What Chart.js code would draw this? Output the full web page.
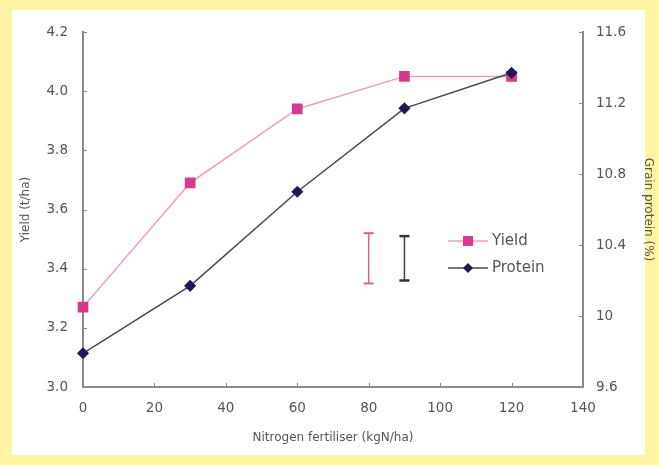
<!DOCTYPE html>
<html>
<head>
<meta charset="utf-8">
<script src="https://cdn.jsdelivr.net/npm/chart.js@4/dist/chart.umd.min.js"></script>
<style>
  html, body { margin: 0; padding: 0; background: #fff4a3; }
  #wrap { width: 659px; height: 465px; position: relative; }
</style>
</head>
<body>
<div id="wrap"><canvas id="nChart" width="659" height="465"></canvas></div>
<script>
// data
const nitrogen = [0, 30, 60, 90, 120];
const yieldVals = [3.27, 3.69, 3.94, 4.05, 4.05];
const proteinVals = [9.79, 10.17, 10.70, 11.17, 11.37];
// LSD bars
const yieldBarX = 80, yieldBar = [3.35, 3.52];
const proteinBarX = 90, proteinBar = [10.20, 10.45];
const legendNames = ['Yield', 'Protein'];

const pink = '#d9388f', pinkLine = '#ec9cc1';
const navy = '#1c1a55', navyLine = '#4a4a4a';
const axisGrey = '#8a8a8a', textGrey = '#555';

const pts = (xs, ys) => xs.map((x, i) => ({ x: x, y: ys[i] }));

// background + inside tick marks + legend
const decor = {
  id: 'decor',
  beforeDraw(chart) {
    const c = chart.ctx;
    c.save();
    c.fillStyle = '#fff4a3';
    c.fillRect(0, 0, chart.width, chart.height);
    c.fillStyle = '#ffffff';
    c.fillRect(12, 10, 633, 445);
    c.restore();
  },
  afterDraw(chart) {
    const c = chart.ctx, a = chart.chartArea;
    const sx = chart.scales.x, sy = chart.scales.y, sy2 = chart.scales.y2;
    c.save();
    c.strokeStyle = axisGrey;
    c.lineWidth = 1;
    c.beginPath();
    sy.ticks.forEach(t => { const p = Math.round(sy.getPixelForValue(t.value)) + 0.5; c.moveTo(a.left, p); c.lineTo(a.left + 4, p); });
    sy2.ticks.forEach(t => { const p = Math.round(sy2.getPixelForValue(t.value)) + 0.5; c.moveTo(a.right, p); c.lineTo(a.right - 4, p); });
    sx.ticks.forEach(t => { const p = Math.round(sx.getPixelForValue(t.value)) + 0.5; c.moveTo(p, a.bottom); c.lineTo(p, a.bottom - 4); });
    c.stroke();

    // legend
    const lx = 448, ly = [241, 268];
    const styles = [[pinkLine, pink, 'rect'], [navyLine, navy, 'rectRot']];
    c.font = '15px "DejaVu Sans", sans-serif';
    c.textBaseline = 'middle';
    legendNames.forEach((name, i) => {
      c.strokeStyle = styles[i][0];
      c.lineWidth = 1.5;
      c.beginPath(); c.moveTo(lx, ly[i]); c.lineTo(lx + 40, ly[i]); c.stroke();
      c.fillStyle = styles[i][1];
      if (styles[i][2] === 'rect') c.fillRect(lx + 15, ly[i] - 5, 10, 10);
      else { c.beginPath(); c.moveTo(lx + 20, ly[i] - 5); c.lineTo(lx + 25, ly[i]); c.lineTo(lx + 20, ly[i] + 5); c.lineTo(lx + 15, ly[i]); c.closePath(); c.fill(); }
      c.fillStyle = textGrey;
      c.fillText(name, lx + 44, ly[i]);
    });
    c.restore();
  }
};

const tickFont = { family: '"DejaVu Sans", sans-serif', size: 13.5 };
const titleFont = { family: '"DejaVu Sans", sans-serif', size: 12 };

new Chart(document.getElementById('nChart'), {
  type: 'line',
  data: {
    datasets: [
      {
        label: legendNames[0], data: pts(nitrogen, yieldVals), yAxisID: 'y', order: 2, clip: false,
        borderColor: pinkLine, borderWidth: 1.5, backgroundColor: pink,
        pointStyle: 'rect', pointRadius: 6.5, pointBorderColor: pink, pointBackgroundColor: pink
      },
      {
        label: legendNames[1], data: pts(nitrogen, proteinVals), yAxisID: 'y2', order: 1, clip: false,
        borderColor: navyLine, borderWidth: 1.5, backgroundColor: navy,
        pointStyle: 'rectRot', pointRadius: 5, pointBorderColor: navy, pointBackgroundColor: navy
      },
      {
        label: 'yield LSD', data: pts([yieldBarX, yieldBarX], yieldBar), yAxisID: 'y', order: 3,
        borderColor: '#e0609a', borderWidth: 1.5,
        pointStyle: 'line', pointRadius: 5, pointBorderWidth: 2, pointBorderColor: '#e0609a'
      },
      {
        label: 'protein LSD', data: pts([proteinBarX, proteinBarX], proteinBar), yAxisID: 'y2', order: 3,
        borderColor: '#444', borderWidth: 1.5,
        pointStyle: 'line', pointRadius: 5, pointBorderWidth: 2.5, pointBorderColor: '#333'
      }
    ]
  },
  options: {
    responsive: false,
    animation: false,
    layout: { padding: { top: 32, left: 0, right: 0, bottom: 0 } },
    plugins: { legend: { display: false }, tooltip: { enabled: false } },
    elements: { line: { tension: 0 } },
    scales: {
      x: {
        type: 'linear', min: 0, max: 140,
        ticks: { stepSize: 20, color: textGrey, font: tickFont, padding: 13 },
        grid: { display: false, drawTicks: false },
        border: { color: axisGrey, width: 2 },
        title: { display: true, text: 'Nitrogen fertiliser (kgN/ha)', color: textGrey, font: titleFont, padding: { top: 20, bottom: 20 } },
        afterFit(s) { s.height = 78; }
      },
      y: {
        position: 'left', min: 3.0, max: 4.2,
        ticks: { stepSize: 0.2, color: textGrey, font: tickFont, padding: 15, callback: v => v.toFixed(1) },
        grid: { display: false, drawTicks: false },
        border: { color: axisGrey, width: 2 },
        title: { display: true, text: 'Yield (t/ha)', color: textGrey, font: titleFont, padding: { top: 19, bottom: 19 } },
        afterFit(s) { s.width = 83; }
      },
      y2: {
        position: 'right', min: 9.6, max: 11.6,
        ticks: { stepSize: 0.4, color: textGrey, font: tickFont, padding: 13,
          callback: v => { const r = Math.round(v * 10) / 10; return Number.isInteger(r) ? String(r) : r.toFixed(1); } },
        grid: { display: false, drawTicks: false },
        border: { color: axisGrey, width: 2 },
        title: { display: true, text: 'Grain protein (%)', color: textGrey, font: titleFont, padding: { top: 4, bottom: 4 } },
        afterFit(s) { s.width = 76; }
      }
    }
  },
  plugins: [decor]
});
</script>
</body>
</html>
